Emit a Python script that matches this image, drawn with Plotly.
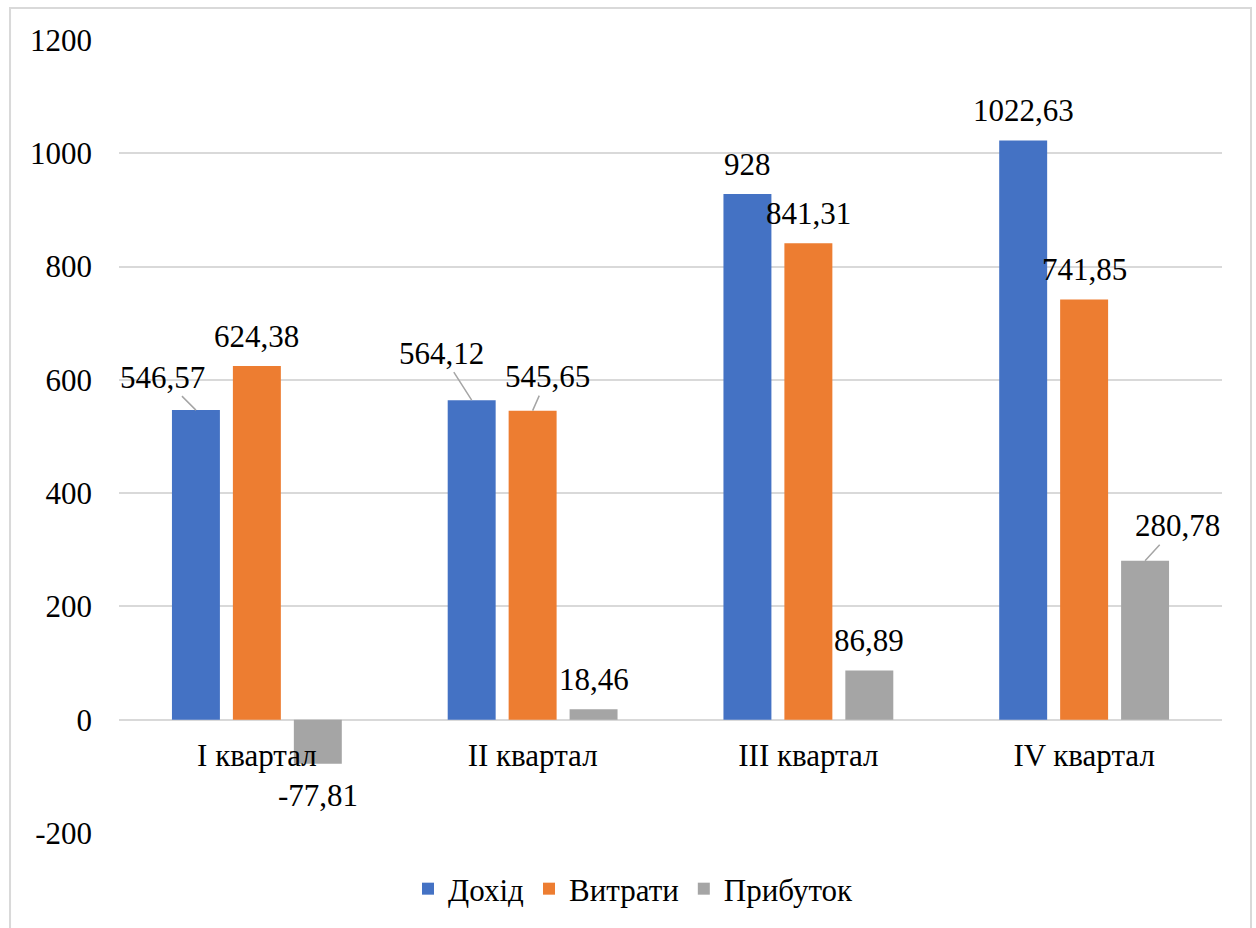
import plotly.graph_objects as go

# Quarterly figures
quarters = ["I квартал", "II квартал", "III квартал", "IV квартал"]
income = [546.57, 564.12, 928, 1022.63]
expenses = [624.38, 545.65, 841.31, 741.85]
profit = [-77.81, 18.46, 86.89, 280.78]
y_ticks = [-200, 0, 200, 400, 600, 800, 1000, 1200]

series_names = ["Дохід", "Витрати", "Прибуток"]
series_values = [income, expenses, profit]
series_colors = ["#4472C4", "#ED7D31", "#A5A5A5"]

FONT = "Times New Roman, Liberation Serif, Tinos, DejaVu Serif, serif"
FS = 31

BARGAP = 0.337
BARGROUPGAP = 0.213
n_series = len(series_values)
slot = (1 - BARGAP) / n_series
Y_MIN, Y_MAX = -200, 1200

# labels pulled away from their bars with a leader line: pixel offset of text
leader = {
    (0, 0): (-33, -33),
    (0, 1): (-30, -47),
    (1, 1): (15, -34),
    (2, 3): (32, -35),
}

fig = go.Figure()
xs = list(range(len(quarters)))
for k, (name, vals, col) in enumerate(zip(series_names, series_values, series_colors)):
    fig.add_trace(go.Bar(x=xs, y=vals, name=name, marker=dict(color=col, line=dict(width=0))))


def fmt(v):
    return f"{v:g}".replace(".", ",")


annotations = []
for k, vals in enumerate(series_values):
    for i, v in enumerate(vals):
        bx = i + (k - (n_series - 1) / 2) * slot
        base = dict(x=bx, y=v, xref="x", yref="y", text=fmt(v),
                    font=dict(family=FONT, size=FS, color="#000000"))
        if (k, i) in leader:
            ax, ay = leader[(k, i)]
            base.update(showarrow=True, arrowhead=0, arrowwidth=1.5,
                        arrowcolor="#A5A5A5", ax=ax, ay=ay, standoff=0)
        else:
            base.update(showarrow=False, xanchor="center", yanchor="middle",
                        yshift=30 if v >= 0 else -32)
        annotations.append(base)

fig.update_layout(
    width=1256, height=928,
    margin=dict(l=119, r=34, t=40, b=95, autoexpand=False),
    paper_bgcolor="white", plot_bgcolor="white",
    barmode="group", bargap=BARGAP, bargroupgap=BARGROUPGAP,
    font=dict(family=FONT, size=FS, color="#000000"),
    annotations=annotations,
    showlegend=True,
    legend=dict(orientation="h", xref="container", yref="container",
                x=0.504, xanchor="center", y=0.042, yanchor="middle",
                font=dict(family=FONT, size=FS), itemwidth=30,
                bgcolor="rgba(0,0,0,0)", traceorder="normal"),
    shapes=[dict(type="rect", xref="paper", yref="paper",
                 x0=-0.0988, x1=1.0263, y0=-0.15, y1=1.0404,
                 line=dict(color="#D9D9D9", width=2), layer="below")],
)

# category axis sits on the zero line
fig.update_xaxes(
    range=[-0.5, len(quarters) - 0.5],
    anchor="free", position=(0 - Y_MIN) / (Y_MAX - Y_MIN),
    tickmode="array", tickvals=xs, ticktext=quarters,
    showgrid=False, zeroline=False, showline=False, ticks="",
    ticklabelstandoff=14,
    tickfont=dict(family=FONT, size=FS, color="#000000"),
)
fig.update_yaxes(
    range=[Y_MIN, Y_MAX], tickmode="array", tickvals=y_ticks,
    ticktext=[str(t) for t in y_ticks],
    showgrid=True, gridcolor="#D9D9D9", gridwidth=1.5,
    zeroline=True, zerolinecolor="#D9D9D9", zerolinewidth=1.5,
    showline=False, ticks="", ticklabelstandoff=26,
    tickfont=dict(family=FONT, size=FS, color="#000000"),
)

fig.write_html("out.html")
